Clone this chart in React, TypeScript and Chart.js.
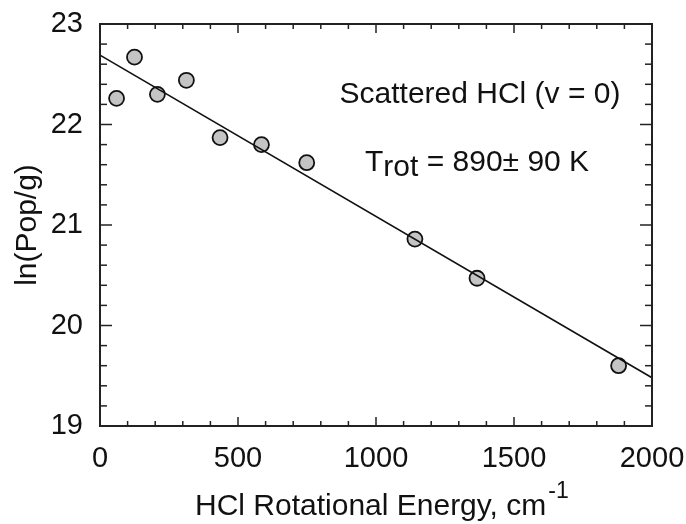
import React, { useEffect, useRef } from "react";
import { Chart, registerables } from "chart.js";

Chart.register(...registerables);

// Data
const energies = [60, 125, 208, 313, 435, 585, 749, 1141, 1366, 1879];
const lnPop = [22.26, 22.67, 22.3, 22.44, 21.87, 21.8, 21.62, 20.86, 20.47, 19.6];
const fitX = [0, 2000];
const fitY = [22.69, 19.48];
const xTicks = [0, 500, 1000, 1500, 2000];
const yTicks = [19, 20, 21, 22, 23];
const xMinorStep = 100;
const yMinorStep = 0.2;
const annotation1 = "Scattered HCl (v = 0)";
const annotationT = "T";
const annotationSub = "rot";
const annotationRest = " = 890\u00b1 90 K";
const xTitle = "HCl Rotational Energy, cm";
const xTitleSup = "-1";
const yTitle = "ln(Pop/g)";

const FONT = "'Liberation Sans', Arial, Helvetica, sans-serif";
const INK = "#111";

const framePlugin = {
  id: "frameAndText",
  afterDraw(chart: any) {
    const { ctx, chartArea: a, scales } = chart;
    const xs = scales.x;
    const ys = scales.y;
    ctx.save();
    ctx.strokeStyle = "#222";
    ctx.lineWidth = 1.5;
    const seg = (x1: number, y1: number, x2: number, y2: number) => {
      ctx.beginPath();
      ctx.moveTo(x1, y1);
      ctx.lineTo(x2, y2);
      ctx.stroke();
    };
    const xMin = xTicks[0];
    const xMax = xTicks[xTicks.length - 1];
    const nx = Math.round((xMax - xMin) / xMinorStep);
    for (let i = 0; i <= nx; i++) {
      const v = xMin + i * xMinorStep;
      const px = xs.getPixelForValue(v);
      const major = xTicks.some((t) => Math.abs(t - v) < 1e-6);
      const len = major ? 9 : 5;
      seg(px, a.bottom, px, a.bottom - len);
      seg(px, a.top, px, a.top + len);
    }
    const yMin = yTicks[0];
    const yMax = yTicks[yTicks.length - 1];
    const ny = Math.round((yMax - yMin) / yMinorStep);
    for (let i = 0; i <= ny; i++) {
      const v = yMin + i * yMinorStep;
      const py = ys.getPixelForValue(v);
      const major = yTicks.some((t) => Math.abs(t - v) < 1e-6);
      const len = major ? 12 : 7;
      seg(a.left, py, a.left + len, py);
      seg(a.right, py, a.right - len, py);
    }
    ctx.lineWidth = 2;
    ctx.strokeRect(a.left, a.top, a.right - a.left, a.bottom - a.top);

    // annotations
    ctx.fillStyle = INK;
    ctx.textBaseline = "alphabetic";
    ctx.font = `30px ${FONT}`;
    ctx.textAlign = "center";
    ctx.fillText(annotation1, 480, 103);
    ctx.textAlign = "left";
    let x = 365;
    ctx.fillText(annotationT, x, 171);
    x += ctx.measureText(annotationT).width;
    ctx.fillText(annotationSub, x, 176);
    x += ctx.measureText(annotationSub).width;
    ctx.fillText(annotationRest, x, 171);

    // x title with superscript
    ctx.font = `30px ${FONT}`;
    let tx = 195;
    ctx.fillText(xTitle, tx, 515);
    tx += ctx.measureText(xTitle).width + 2;
    ctx.font = `23px ${FONT}`;
    ctx.fillText(xTitleSup, tx, 498);

    // y title
    ctx.font = `30px ${FONT}`;
    ctx.translate(36, (a.top + a.bottom) / 2);
    ctx.rotate(-Math.PI / 2);
    ctx.textAlign = "center";
    ctx.fillText(yTitle, 0, 0);
    ctx.restore();
  },
};

export default function App() {
  const ref = useRef<HTMLCanvasElement | null>(null);
  useEffect(() => {
    if (!ref.current) return;
    const chart = new Chart(ref.current, {
      type: "scatter",
      data: {
        datasets: [
          {
            type: "line",
            data: fitX.map((v, i) => ({ x: v, y: fitY[i] })),
            borderColor: "#111",
            borderWidth: 1.6,
            pointRadius: 0,
            fill: false,
            order: 0,
          } as any,
          {
            type: "scatter",
            data: energies.map((v, i) => ({ x: v, y: lnPop[i] })),
            backgroundColor: "#c4c4c4",
            borderColor: "#111",
            borderWidth: 1.8,
            pointRadius: 7.5,
            order: 1,
          },
        ],
      },
      options: {
        responsive: false,
        animation: false,
        devicePixelRatio: 1,
        layout: { padding: { top: 24, right: 34, left: 0, bottom: 0 } },
        plugins: { legend: { display: false }, tooltip: { enabled: false } },
        scales: {
          x: {
            type: "linear",
            min: xTicks[0],
            max: xTicks[xTicks.length - 1],
            grid: { display: false, drawTicks: false },
            border: { display: false },
            afterBuildTicks: (s: any) => {
              s.ticks = xTicks.map((v) => ({ value: v }));
            },
            afterFit: (s: any) => {
              s.height = 98;
              s.paddingLeft = 0;
              s.paddingRight = 0;
            },
            ticks: {
              padding: 16,
              color: INK,
              font: { family: FONT, size: 29 },
              maxRotation: 0,
              autoSkip: false,
              callback: (v: any) => String(v),
            },
          },
          y: {
            type: "linear",
            min: yTicks[0],
            max: yTicks[yTicks.length - 1],
            grid: { display: false, drawTicks: false },
            border: { display: false },
            afterBuildTicks: (s: any) => {
              s.ticks = yTicks.map((v) => ({ value: v }));
            },
            afterFit: (s: any) => {
              s.width = 100;
              s.paddingTop = 0;
              s.paddingBottom = 0;
            },
            ticks: {
              padding: 17,
              color: INK,
              font: { family: FONT, size: 29 },
              autoSkip: false,
              callback: (v: any) => String(v),
            },
          },
        },
      },
      plugins: [framePlugin],
    });
    return () => chart.destroy();
  }, []);
  return (
    <div style={{ position: "absolute", left: 0, top: 0, width: 686, height: 524, background: "#fff" }}>
      <canvas ref={ref} width={686} height={524} style={{ display: "block" }} />
    </div>
  );
}
